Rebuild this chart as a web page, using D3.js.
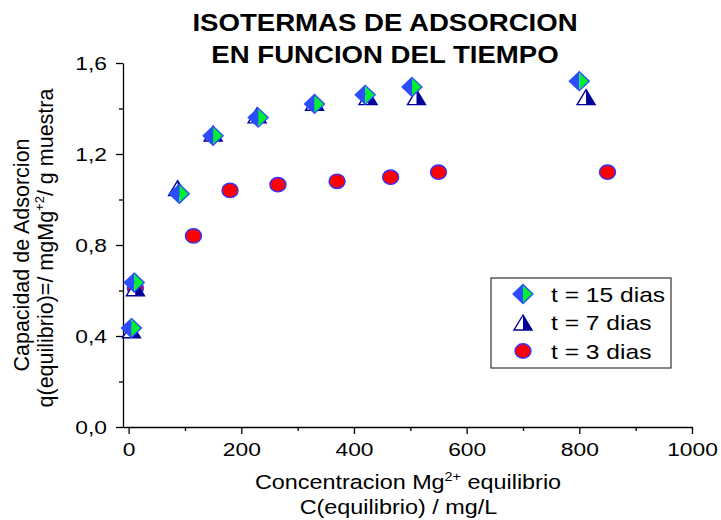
<!DOCTYPE html>
<html>
<head>
<meta charset="utf-8">
<script src="https://cdn.jsdelivr.net/npm/d3@7"></script>
<style>
  body { margin: 0; background: #fff; }
  svg { display: block; font-family: Arial, "Liberation Sans", sans-serif; }
</style>
</head>
<body>
<svg width="721" height="520"></svg>
<script>
// concentration at equilibrium (mg/L) and adsorption capacity for each series
const c15 = [5, 10, 90, 150, 230, 330, 420, 503, 800];
const q15 = [0.435, 0.635, 1.025, 1.28, 1.36, 1.42, 1.46, 1.495, 1.52];
const c7 = [5, 12, 87, 150, 228, 330, 425, 511, 812];
const q7 = [0.425, 0.61, 1.05, 1.29, 1.37, 1.425, 1.45, 1.45, 1.45];
const c3 = [12, 115, 180, 265, 370, 465, 550, 850];
const q3 = [0.61, 0.84, 1.04, 1.065, 1.08, 1.098, 1.12, 1.12];
const seriesNames = ["t = 15 dias", "t = 7 dias", "t = 3 dias"];
const xTicks = [0, 200, 400, 600, 800, 1000];
const yTicks = [0, 0.4, 0.8, 1.2, 1.6];

const svg = d3.select("svg");
const sx = 1.2; // text in the original is drawn a little wider than normal

const x = d3.scaleLinear().domain([-10, 1000]).range([123, 692]);
const y = d3.scaleLinear().domain([0, 1.6]).range([427, 63]);
const fmt = d => d3.format(".1f")(d).replace(".", ",");

// minor ticks
svg.append("g")
  .attr("transform", "translate(0,427)")
  .call(d3.axisBottom(x).tickValues(d3.range(100, 1000, 200)).tickSize(4).tickFormat(""))
  .call(g => g.select(".domain").remove());
svg.append("g")
  .attr("transform", "translate(123,0)")
  .call(d3.axisLeft(y).tickValues([0.2, 0.6, 1.0, 1.4]).tickSize(4).tickFormat(""))
  .call(g => g.select(".domain").remove());

const xAxis = svg.append("g")
  .attr("transform", "translate(0,427)")
  .call(d3.axisBottom(x).tickValues(xTicks).tickFormat(d3.format("d")).tickSize(7).tickPadding(9).tickSizeOuter(0));
const yAxis = svg.append("g")
  .attr("transform", "translate(123,0)")
  .call(d3.axisLeft(y).tickValues(yTicks).tickFormat(fmt).tickSize(7).tickPadding(9).tickSizeOuter(0));

svg.selectAll(".domain, .tick line").attr("stroke", "#000").attr("stroke-width", 1.3);
svg.selectAll(".tick text")
  .attr("font-size", 19)
  .attr("font-family", "Arial, 'Liberation Sans', sans-serif")
  .attr("fill", "#000")
  .each(function() {
    const t = d3.select(this);
    const x0 = +t.attr("x") || 0;
    t.attr("x", x0 / sx).attr("transform", `scale(${sx},1)`);
  });

// title
const title = svg.append("g").attr("transform", `translate(385,0) scale(${sx},1)`)
  .attr("font-weight", "bold").attr("font-size", 23).attr("text-anchor", "middle");
title.append("text").attr("y", 31).text("ISOTERMAS DE ADSORCION");
title.append("text").attr("y", 63).text("EN FUNCION DEL TIEMPO");

// x axis title
const xt = svg.append("g").attr("transform", `translate(408,0) scale(${sx},1)`)
  .attr("font-size", 19.5).attr("text-anchor", "middle");
const xl1 = xt.append("text").attr("y", 489);
xl1.append("tspan").text("Concentracion Mg");
xl1.append("tspan").attr("font-size", 12).attr("dy", -8).text("2+");
xl1.append("tspan").attr("dy", 8).text(" equilibrio");
xt.append("text").attr("x", -8).attr("y", 514).text("C(equilibrio) / mg/L");

// y axis title
const yt = svg.append("g").attr("transform", "translate(0,250) rotate(-90)")
  .attr("font-size", 21.5).attr("text-anchor", "middle");
yt.append("text").attr("x", -5).attr("y", 29).text("Capacidad de Adsorcion");
const yl2 = yt.append("text").attr("x", 2).attr("y", 53);
yl2.append("tspan").text("q(equilibrio)=/ mgMg");
yl2.append("tspan").attr("font-size", 13).attr("dy", -9).text("+2");
yl2.append("tspan").attr("dy", 9).text("/ g muestra");

// marker drawers
function circleMark(g) {
  g.append("ellipse").attr("rx", 8).attr("ry", 7.2)
    .attr("fill", "#ff0000").attr("stroke", "#3333ff").attr("stroke-width", 1.4);
}
function triMark(g) {
  const w = 9, h = 7.5;
  g.append("path").attr("d", `M0,${-h}L${-w},${h}L0,${h}Z`).attr("fill", "#fff");
  g.append("path").attr("d", `M0,${-h}L${w},${h}L0,${h}Z`).attr("fill", "#000099");
  g.append("path").attr("d", `M0,${-h}L${w},${h}L${-w},${h}Z`)
    .attr("fill", "none").attr("stroke", "#000099").attr("stroke-width", 1.4);
}
function diaMark(g) {
  const w = 10, h = 9.5;
  g.append("path").attr("d", `M0,${-h}L${-w},0L0,${h}Z`).attr("fill", "#2b4cff");
  g.append("path").attr("d", `M0,${-h}L${w},0L0,${h}Z`).attr("fill", "#00ee33");
  g.append("path").attr("d", `M0,${-h}L${w},0L0,${h}L${-w},0Z`)
    .attr("fill", "none").attr("stroke", "#2b4cff").attr("stroke-width", 1.3);
}

function plot(cs, qs, draw) {
  svg.append("g").selectAll("g")
    .data(d3.zip(cs, qs))
    .join("g")
    .attr("transform", d => `translate(${x(d[0])},${y(d[1])})`)
    .each(function() { draw(d3.select(this)); });
}
plot(c3, q3, circleMark);
plot(c7, q7, triMark);
plot(c15, q15, diaMark);

// legend
const lg = svg.append("g");
lg.append("rect").attr("x", 491).attr("y", 278).attr("width", 180).attr("height", 90)
  .attr("fill", "#fff").attr("stroke", "#333").attr("stroke-width", 1.2);
const drawers = [diaMark, triMark, circleMark];
seriesNames.forEach((name, i) => {
  const row = lg.append("g").attr("transform", `translate(0,${294 + i * 28.5})`);
  drawers[i](row.append("g").attr("transform", "translate(523,0)"));
  row.append("text").attr("transform", `translate(551,7.5) scale(${sx},1)`)
    .attr("font-size", 20.5).text(name);
});
</script>
</body>
</html>
